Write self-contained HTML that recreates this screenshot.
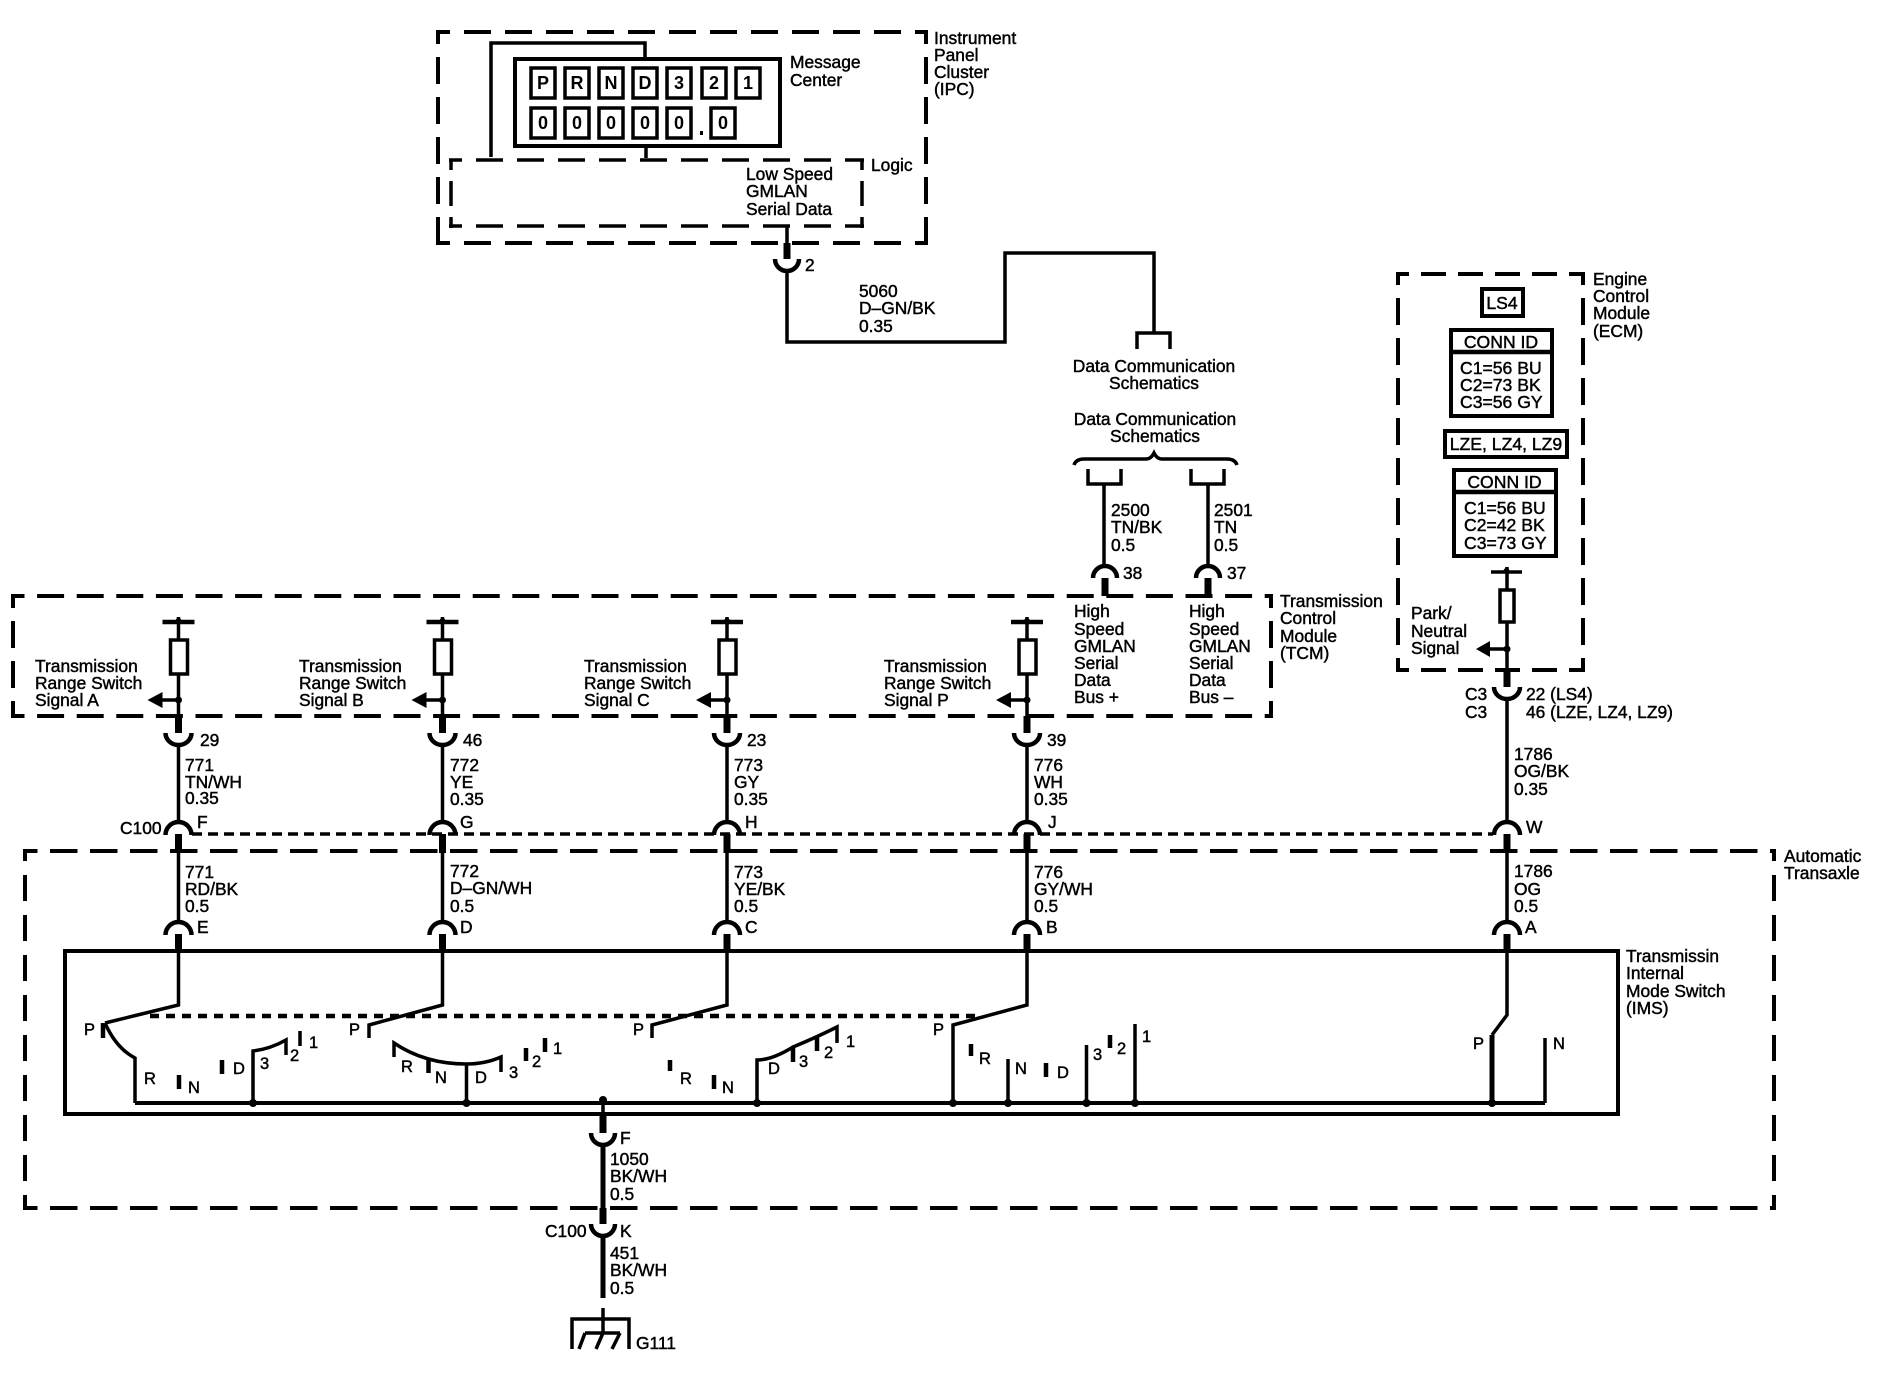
<!DOCTYPE html>
<html><head><meta charset="utf-8"><style>
html,body{margin:0;padding:0;background:#fff}
svg{display:block}
text{font-family:"Liberation Sans",sans-serif;font-size:17.4px;fill:#000;stroke:#000;stroke-width:.45}
.s{font-size:16.5px}
.b{font-size:18px;font-weight:bold;stroke-width:0;text-anchor:middle}
.m{text-anchor:middle}
.c{font-size:17.6px}
.l{fill:none;stroke:#000;stroke-width:3.5}
.d{fill:none;stroke:#000;stroke-width:4}
.k{fill:none;stroke:#000;stroke-width:7}
.a{fill:none;stroke:#000;stroke-width:4.5}
.r{fill:#fff;stroke:#000;stroke-width:3.5}
.f{fill:#000;stroke:none}
</style></head><body>
<svg width="1878" height="1392" viewBox="0 0 1878 1392" xmlns="http://www.w3.org/2000/svg">
<defs>
<g id="col">
<path class="a" d="M-16 622H16" />
<circle class="f" cx="0" cy="621" r="3"/>
<path class="l" d="M0 617V716"/>
<rect class="r" x="-8" y="640" width="17" height="34"/>
<circle class="f" cy="700" r="3.5"/>
<path class="l" d="M0 700H-18"/>
<path class="f" d="M-31 700L-16 692V708Z"/>
<path class="k" d="M0 716V733"/>
<path class="a" d="M-13 733A13 12 0 0 0 13 733"/>
<path class="l" d="M0 745V822"/>
<path class="a" d="M-13 835A13 13 0 0 1 13 835"/>
<path class="k" d="M0 834V853"/>
<path class="l" d="M0 853V922"/>
<path class="a" d="M-13 935A13 13 0 0 1 13 935"/>
<path class="k" d="M0 934V951"/>
</g>
</defs>

<!-- IPC -->
<path class="d" stroke-dasharray="27 14" stroke-dashoffset="13" d="M436 32H928M436 243H928"/>
<path class="d" stroke-dasharray="27 13" stroke-dashoffset="13" d="M438 30V245M926 30V245"/>
<path class="l" d="M491 157V43H645V58"/>
<rect x="515" y="59" width="265" height="87" fill="none" stroke="#000" stroke-width="4"/>
<path class="l" d="M646 147V158"/>
<rect class="r" x="531" y="68" width="24" height="30"/><rect class="r" x="565" y="68" width="24" height="30"/><rect class="r" x="599" y="68" width="24" height="30"/><rect class="r" x="633" y="68" width="24" height="30"/><rect class="r" x="667" y="68" width="24" height="30"/><rect class="r" x="702" y="68" width="24" height="30"/><rect class="r" x="736" y="68" width="24" height="30"/>
<rect class="r" x="531" y="108" width="24" height="30"/><rect class="r" x="565" y="108" width="24" height="30"/><rect class="r" x="599" y="108" width="24" height="30"/><rect class="r" x="633" y="108" width="24" height="30"/><rect class="r" x="667" y="108" width="24" height="30"/><rect class="r" x="711" y="108" width="24" height="30"/>
<text class="b" x="543" y="89">P</text><text class="b" x="577" y="89">R</text><text class="b" x="611" y="89">N</text><text class="b" x="645" y="89">D</text><text class="b" x="679" y="89">3</text><text class="b" x="714" y="89">2</text><text class="b" x="748" y="89">1</text>
<text class="b" x="543" y="129">0</text><text class="b" x="577" y="129">0</text><text class="b" x="611" y="129">0</text><text class="b" x="645" y="129">0</text><text class="b" x="679" y="129">0</text><text class="b" x="723" y="129">0</text>
<rect class="f" x="700" y="131" width="3" height="4"/>
<text x="934" y="44">Instrument</text><text x="934" y="61">Panel</text><text x="934" y="78">Cluster</text><text x="934" y="95">(IPC)</text>
<text x="790" y="68">Message</text><text x="790" y="86">Center</text>
<text x="871" y="171">Logic</text>
<text x="746" y="180">Low Speed</text><text x="746" y="197">GMLAN</text><text x="746" y="215">Serial Data</text>
<path class="d" style="stroke-width:3.5" stroke-dasharray="27 14" stroke-dashoffset="14" d="M449 160H864M449 226H864"/>
<path class="d" style="stroke-width:3.5" stroke-dasharray="25 11" stroke-dashoffset="15" d="M451 160V228M862 160V228"/>
<path class="l" d="M787 226V243"/><path class="k" d="M787 243V259"/>
<path class="a" d="M775 259A12 12 0 0 0 799 259"/>
<path class="l" d="M787 271V342H1005V253H1154V333"/>
<path class="l" d="M1137 349V333H1170V349"/>
<text x="805" y="271">2</text>
<text x="859" y="297">5060</text><text x="859" y="314">D–GN/BK</text><text x="859" y="332">0.35</text>
<text class="m" x="1154" y="372">Data Communication</text><text class="m" x="1154" y="389">Schematics</text>
<text class="m" x="1155" y="425">Data Communication</text><text class="m" x="1155" y="442">Schematics</text>
<path class="l" d="M1074 465Q1076 459 1084 459L1146 459Q1151 459 1154 453Q1157 459 1162 459L1227 459Q1235 459 1237 465"/>
<path class="l" d="M1088 469V484H1121V469M1191 469V484H1224V469M1104 484V567M1208 484V567"/>
<path class="a" d="M1093 578A12 12 0 0 1 1117 578M1196 578A12 12 0 0 1 1220 578"/>
<path class="k" d="M1105 578V596M1208 578V596"/>
<text x="1123" y="579">38</text><text x="1227" y="579">37</text>
<text x="1111" y="516">2500</text><text x="1111" y="533">TN/BK</text><text x="1111" y="551">0.5</text>
<text x="1214" y="516">2501</text><text x="1214" y="533">TN</text><text x="1214" y="551">0.5</text>
<text x="1074" y="617">High</text><text x="1074" y="635">Speed</text><text x="1074" y="652">GMLAN</text><text x="1074" y="669">Serial</text><text x="1074" y="686">Data</text><text x="1074" y="703">Bus +</text>
<text x="1189" y="617">High</text><text x="1189" y="635">Speed</text><text x="1189" y="652">GMLAN</text><text x="1189" y="669">Serial</text><text x="1189" y="686">Data</text><text x="1189" y="703">Bus –</text>
<text x="1280" y="607">Transmission</text><text x="1280" y="624">Control</text><text x="1280" y="642">Module</text><text x="1280" y="659">(TCM)</text>

<!-- TCM box -->
<path class="d" stroke-dasharray="27 12.600" stroke-dashoffset="13.500" d="M11 596H1273M11 716H1273"/>
<path class="d" stroke-dasharray="27 13" stroke-dashoffset="13" d="M13 594V718M1271 594V718"/>
<!-- dotted C100 -->
<path class="l" d="M192 834H1493" stroke-dasharray="10 6"/>

<use href="#col" x="178.500"/><use href="#col" x="442.500"/><use href="#col" x="727"/><use href="#col" x="1027"/>

<text x="35" y="672">Transmission</text><text x="35" y="689">Range Switch</text><text x="35" y="706">Signal A</text>
<text x="299" y="672">Transmission</text><text x="299" y="689">Range Switch</text><text x="299" y="706">Signal B</text>
<text x="584" y="672">Transmission</text><text x="584" y="689">Range Switch</text><text x="584" y="706">Signal C</text>
<text x="884" y="672">Transmission</text><text x="884" y="689">Range Switch</text><text x="884" y="706">Signal P</text>

<text x="200" y="746">29</text><text x="463" y="746">46</text><text x="747" y="746">23</text><text x="1047" y="746">39</text>
<text x="185" y="771">771</text><text x="185" y="788">TN/WH</text><text x="185" y="804">0.35</text>
<text x="450" y="771">772</text><text x="450" y="788">YE</text><text x="450" y="805">0.35</text>
<text x="734" y="771">773</text><text x="734" y="788">GY</text><text x="734" y="805">0.35</text>
<text x="1034" y="771">776</text><text x="1034" y="788">WH</text><text x="1034" y="805">0.35</text>
<text x="197" y="828">F</text><text x="460" y="828">G</text><text x="745" y="828">H</text><text x="1048" y="828">J</text>
<text x="120" y="834">C100</text>
<text x="185" y="878">771</text><text x="185" y="895">RD/BK</text><text x="185" y="912">0.5</text>
<text x="450" y="877">772</text><text x="450" y="894">D–GN/WH</text><text x="450" y="912">0.5</text>
<text x="734" y="878">773</text><text x="734" y="895">YE/BK</text><text x="734" y="912">0.5</text>
<text x="1034" y="878">776</text><text x="1034" y="895">GY/WH</text><text x="1034" y="912">0.5</text>
<text x="197" y="933">E</text><text x="460" y="933">D</text><text x="745" y="933">C</text><text x="1046" y="933">B</text>

<!-- Transaxle box -->
<path class="d" stroke-dasharray="27.500 12.500" stroke-dashoffset="13" d="M23 851H1776M23 1208H1776"/>
<path class="d" stroke-dasharray="26 14" stroke-dashoffset="14" d="M25 849V1210M1774 849V1210"/>
<text x="1784" y="862">Automatic</text><text x="1784" y="879">Transaxle</text>

<!-- IMS box -->
<rect x="65" y="951" width="1553" height="163" fill="none" stroke="#000" stroke-width="4"/>
<text x="1626" y="962">Transmissin</text><text x="1626" y="979">Internal</text><text x="1626" y="997">Mode Switch</text><text x="1626" y="1014">(IMS)</text>

<!-- Bus -->
<path class="l" style="stroke-width:4" d="M135 1103H1545"/>
<path class="l" d="M150 1016H975" stroke-dasharray="9 7" style="stroke-width:4.500"/>

<!-- switch A -->
<path class="l" d="M178.500 951V1005L105 1023"/>
<path class="l" style="stroke-width:4.500" d="M103 1023V1038" />
<path class="l" d="M105 1023Q116 1048 135 1058V1103"/>
<path class="a" d="M179 1075V1089M222 1060V1074"/>
<path class="l" d="M253 1103V1051Q270 1049 286 1040V1055"/>
<path class="l" d="M300 1031V1046"/>
<text class="s" x="84" y="1035">P</text><text class="s" x="144" y="1084">R</text><text class="s" x="188" y="1093">N</text><text class="s" x="233" y="1074">D</text><text class="s" x="260" y="1069">3</text><text class="s" x="290" y="1061">2</text><text class="s" x="309" y="1048">1</text>

<!-- switch B -->
<path class="l" d="M442.500 951V1005L369 1025V1038"/>
<path class="l" d="M394 1057V1043Q425 1064 466.500 1064Q485 1064 501 1057V1072M466.500 1064V1103"/>
<path class="a" d="M428.500 1060V1073M526 1048V1061M545 1038V1052"/>
<text class="s" x="349" y="1035">P</text><text class="s" x="401" y="1072">R</text><text class="s" x="435" y="1083">N</text><text class="s" x="475" y="1083">D</text><text class="s" x="509" y="1078">3</text><text class="s" x="532" y="1067">2</text><text class="s" x="553" y="1054">1</text>

<!-- switch C -->
<path class="l" d="M727 951V1005L652 1025V1038"/>
<path class="a" d="M670 1060V1071M714 1075V1089"/>
<path class="l" d="M757 1103V1060Q772 1060 793 1047Q815 1038 837 1027V1043"/>
<path class="a" d="M793 1047V1062M817 1037V1051"/>
<text class="s" x="633" y="1035">P</text><text class="s" x="680" y="1084">R</text><text class="s" x="722" y="1093">N</text><text class="s" x="768" y="1074">D</text><text class="s" x="799" y="1067">3</text><text class="s" x="824" y="1058">2</text><text class="s" x="846" y="1047">1</text>

<!-- switch J -->
<path class="l" d="M1027 951V1005L953 1025V1103"/>
<path class="a" d="M971 1044V1056M1046 1063V1077M1110 1035V1048"/>
<path class="l" d="M1008 1059V1103M1086.500 1045V1103M1135 1024V1103"/>
<text class="s" x="933" y="1035">P</text><text class="s" x="979" y="1064">R</text><text class="s" x="1015" y="1074">N</text><text class="s" x="1057" y="1078">D</text><text class="s" x="1093" y="1060">3</text><text class="s" x="1117" y="1054">2</text><text class="s" x="1142" y="1042">1</text>

<!-- bus dots -->
<circle class="f" cx="253" cy="1103" r="4"/><circle class="f" cx="466.500" cy="1103" r="4"/><circle class="f" cx="757" cy="1103" r="4"/><circle class="f" cx="953" cy="1103" r="4"/><circle class="f" cx="1008" cy="1103" r="4"/><circle class="f" cx="1086.500" cy="1103" r="4"/><circle class="f" cx="1135" cy="1103" r="4"/><circle class="f" cx="1492" cy="1103" r="4"/><circle class="f" cx="603" cy="1100" r="4"/>

<!-- W column / ECM -->
<path class="d" stroke-dasharray="25 12" stroke-dashoffset="12" d="M1396 274H1585M1396 670H1585"/>
<path class="d" stroke-dasharray="27 13" stroke-dashoffset="14" d="M1398 272V672M1583 272V672"/>
<rect fill="none" stroke="#000" stroke-width="4" x="1482" y="289" width="41" height="27"/>
<text class="m c" x="1502" y="309">LS4</text>
<rect fill="none" stroke="#000" stroke-width="4" x="1451" y="330" width="101" height="86"/><path class="a" d="M1449 352H1553"/>
<text class="m c" x="1501" y="348">CONN ID</text>
<text class="c" x="1460" y="374">C1=56 BU</text><text class="c" x="1460" y="391">C2=73 BK</text><text class="c" x="1460" y="408">C3=56 GY</text>
<rect fill="none" stroke="#000" stroke-width="4" x="1445" y="431" width="122" height="26"/>
<text class="m c" x="1506" y="450">LZE, LZ4, LZ9</text>
<rect fill="none" stroke="#000" stroke-width="4" x="1454" y="470" width="102" height="86"/><path class="a" d="M1452 492H1557"/>
<text class="m c" x="1504.500" y="488">CONN ID</text>
<text class="c" x="1464" y="514">C1=56 BU</text><text class="c" x="1464" y="531">C2=42 BK</text><text class="c" x="1464" y="549">C3=73 GY</text>
<path class="l" d="M1491 572H1522"/>
<circle class="f" cx="1506.500" cy="571" r="3"/>
<path class="l" d="M1507 567V670"/>
<rect class="r" x="1500" y="590" width="14" height="32"/>
<circle class="f" cx="1507" cy="649" r="3.500"/>
<path class="l" d="M1507 649H1488"/><path class="f" d="M1476 649L1490 641V657Z"/>
<path class="k" d="M1507 670V687"/>
<path class="a" d="M1494 687A13 12 0 0 0 1520 687"/>
<path class="l" d="M1507 699V822"/>
<path class="a" d="M1494 835A13 13 0 0 1 1520 835"/>
<path class="k" d="M1507 834V852"/>
<path class="l" d="M1507 852V922"/>
<path class="a" d="M1494 935A13 13 0 0 1 1520 935"/>
<path class="k" d="M1507 934V951"/>
<path class="l" d="M1507 951V1015L1492 1035"/>
<path class="l" style="stroke-width:5" d="M1492 1035V1103"/>
<path class="l" d="M1545 1038V1103"/>
<text class="s" x="1473" y="1049">P</text><text class="s" x="1553" y="1049">N</text>
<text x="1411" y="619">Park/</text><text x="1411" y="637">Neutral</text><text x="1411" y="654">Signal</text>
<text x="1593" y="285">Engine</text><text x="1593" y="302">Control</text><text x="1593" y="319">Module</text><text x="1593" y="337">(ECM)</text>
<text x="1465" y="700">C3</text><text x="1465" y="718">C3</text>
<text x="1526" y="700">22 (LS4)</text><text x="1526" y="718">46 (LZE, LZ4, LZ9)</text>
<text x="1514" y="760">1786</text><text x="1514" y="777">OG/BK</text><text x="1514" y="795">0.35</text>
<text x="1526" y="833">W</text>
<text x="1514" y="877">1786</text><text x="1514" y="895">OG</text><text x="1514" y="912">0.5</text>
<text x="1525" y="933">A</text>

<!-- ground column -->
<path class="l" d="M603 1098V1114"/><path class="k" d="M603 1114V1133"/>
<path class="a" d="M591 1133A12 12 0 0 0 615 1133"/>
<path class="l" style="stroke-width:5" d="M603 1144V1208"/><path class="k" d="M603 1208V1224"/>
<path class="a" d="M591 1224A12 12 0 0 0 615 1224"/>
<path class="l" style="stroke-width:5" d="M603 1236V1298"/>
<text x="620" y="1144">F</text><text x="610" y="1165">1050</text><text x="610" y="1182">BK/WH</text><text x="610" y="1200">0.5</text>
<text x="545" y="1237">C100</text><text x="620" y="1237">K</text><text x="610" y="1259">451</text><text x="610" y="1276">BK/WH</text><text x="610" y="1294">0.5</text>
<path class="l" d="M603 1308V1333M572 1349V1319H629V1349M585 1333H620M585 1333L579 1349M603 1333L596 1349M620 1333L612 1349"/>
<text x="636" y="1349">G111</text>
</svg>
</body></html>
